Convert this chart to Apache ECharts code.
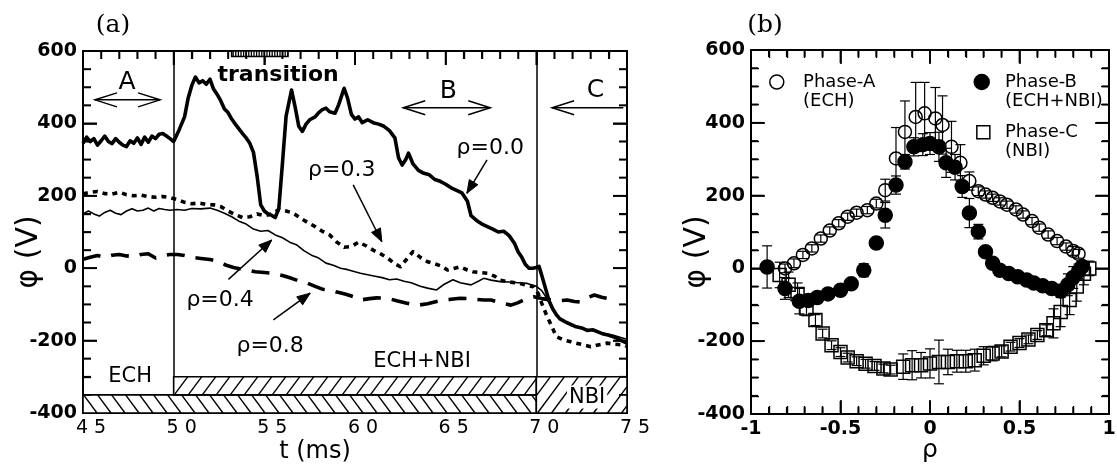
<!DOCTYPE html>
<html>
<head>
<meta charset="utf-8">
<script src="https://cdn.jsdelivr.net/npm/echarts@6/dist/echarts.min.js"></script>
<style>
  html, body { margin: 0; padding: 0; background: #fff; }
  #chart { width: 1117px; height: 466px; }
</style>
</head>
<body>
<div id="chart"></div>
<script>
// ---- (a) plasma potential time traces, t in ms, phi in V ----
const rho00 = [[45.0,345],[45.2,362],[45.4,350],[45.6,358],[45.8,340],[46.0,352],[46.2,365],[46.4,350],[46.6,344],[46.8,358],[47.0,348],[47.2,340],[47.4,336],[47.6,352],[47.8,345],[48.0,360],[48.2,342],[48.4,362],[48.6,348],[48.8,365],[49.0,358],[49.2,370],[49.4,372],[49.6,365],[49.8,358],[50.0,350],[50.3,382],[50.6,418],[50.8,470],[51.0,505],[51.2,528],[51.4,512],[51.6,518],[51.8,508],[52.0,522],[52.2,495],[52.4,480],[52.6,462],[52.8,440],[53.0,430],[53.2,412],[53.4,398],[53.6,385],[53.8,372],[54.0,360],[54.2,345],[54.4,320],[54.6,255],[54.8,175],[55.0,158],[55.2,150],[55.4,146],[55.6,140],[55.8,165],[56.0,290],[56.2,420],[56.5,492],[56.7,445],[56.9,392],[57.1,378],[57.3,398],[57.5,410],[57.8,418],[58.0,430],[58.2,438],[58.4,442],[58.6,432],[58.9,428],[59.1,452],[59.4,497],[59.6,468],[59.8,425],[60.0,412],[60.2,418],[60.4,402],[60.7,410],[61.0,402],[61.3,398],[61.6,392],[61.9,380],[62.2,360],[62.4,305],[62.6,285],[62.8,300],[62.95,318],[63.2,288],[63.5,270],[63.8,262],[64.1,258],[64.4,245],[64.7,240],[65.0,232],[65.3,222],[65.6,215],[65.9,208],[66.2,185],[66.4,145],[66.7,132],[67.0,122],[67.3,115],[67.6,108],[67.9,100],[68.2,102],[68.5,90],[68.8,68],[69.0,45],[69.2,30],[69.4,10],[69.6,0],[69.8,0],[70.0,2],[70.15,5],[70.3,-20],[70.5,-55],[70.7,-90],[70.9,-112],[71.1,-128],[71.3,-140],[71.6,-148],[71.9,-155],[72.2,-162],[72.5,-165],[72.8,-172],[73.1,-170],[73.4,-176],[73.7,-182],[74.0,-185],[74.3,-190],[74.6,-198],[75.0,-207]];

const rho03 = [[45.0,205],[45.4,210],[45.8,212],[46.2,206],[46.6,205],[47.0,210],[47.4,203],[47.8,200],[48.2,202],[48.6,198],[49.0,196],[49.4,198],[49.8,195],[50.2,190],[50.6,182],[51.0,178],[51.4,180],[51.8,176],[52.2,175],[52.6,170],[53.0,158],[53.4,148],[53.8,140],[54.2,142],[54.6,150],[55.0,145],[55.4,150],[55.8,162],[56.2,158],[56.6,152],[57.0,138],[57.4,126],[57.8,115],[58.2,102],[58.6,92],[59.0,72],[59.4,58],[59.8,60],[60.2,72],[60.6,62],[61.0,50],[61.4,40],[61.8,28],[62.2,12],[62.5,4],[62.8,22],[63.2,46],[63.6,30],[64.0,18],[64.4,12],[64.8,5],[65.1,-5],[65.5,0],[65.8,4],[66.2,-5],[66.5,-10],[66.9,-12],[67.3,-14],[67.7,-22],[68.0,-33],[68.5,-38],[69.1,-42],[69.5,-48],[69.85,-51],[70.1,-70],[70.3,-97],[70.55,-128],[70.8,-155],[71.1,-189],[71.5,-198],[71.9,-203],[72.2,-207],[72.6,-212],[73.0,-217],[73.4,-212],[73.9,-207],[74.3,-210],[74.8,-212],[75.0,-216]];

const rho04 = [[45.0,150],[45.3,158],[45.6,150],[45.9,144],[46.2,154],[46.5,160],[46.8,152],[47.1,148],[47.4,158],[47.7,164],[48.0,158],[48.3,160],[48.6,166],[48.9,158],[49.2,165],[49.5,162],[49.8,160],[50.2,162],[50.6,160],[51.0,165],[51.5,164],[52.0,166],[52.4,160],[52.8,152],[53.2,142],[53.6,130],[54.0,122],[54.4,108],[54.8,102],[55.2,104],[55.6,92],[56.0,84],[56.4,72],[56.8,64],[57.2,48],[57.6,36],[58.0,28],[58.4,14],[58.8,8],[59.2,0],[59.6,-4],[60.0,-10],[60.3,-14],[60.7,-18],[61.1,-22],[61.5,-26],[61.9,-32],[62.3,-30],[62.7,-36],[63.1,-40],[63.6,-50],[64.0,-55],[64.5,-60],[64.9,-45],[65.4,-32],[65.8,-40],[66.4,-46],[66.8,-36],[67.1,-28],[67.5,-33],[68.0,-37],[68.5,-38],[69.0,-40],[69.5,-42],[70.0,-50],[70.3,-62],[70.6,-85],[70.9,-112],[71.2,-135],[71.5,-148],[71.9,-158],[72.3,-163],[72.7,-168],[73.1,-172],[73.5,-178],[73.9,-182],[74.3,-186],[74.7,-192],[75.0,-196]];

const rho08 = [[45.0,25],[45.4,30],[45.8,35],[46.2,30],[46.6,36],[47.0,38],[47.4,34],[47.8,32],[48.2,38],[48.6,40],[49.0,28],[49.4,34],[49.8,38],[50.2,38],[50.6,35],[51.0,30],[51.5,27],[52.0,24],[52.5,18],[52.9,8],[53.3,2],[53.7,-2],[54.1,-5],[54.5,-10],[55.0,-12],[55.5,-14],[56.0,-20],[56.5,-28],[57.0,-37],[57.4,-42],[57.8,-50],[58.2,-58],[58.6,-60],[59.0,-66],[59.5,-72],[60.0,-80],[60.3,-88],[60.8,-84],[61.2,-82],[61.8,-83],[62.3,-90],[62.8,-96],[63.2,-100],[63.5,-102],[64.0,-98],[64.5,-92],[64.9,-88],[65.3,-86],[65.8,-83],[66.2,-84],[66.7,-86],[67.1,-88],[67.5,-88],[68.0,-95],[68.6,-102],[69.0,-95],[69.3,-88],[69.6,-82],[69.85,-79],[70.3,-84],[70.8,-88],[71.2,-90],[71.7,-88],[72.1,-92],[72.4,-93],[72.8,-82],[73.2,-74],[73.6,-80],[73.9,-83],[74.2,-75]];

// phase boundaries (ms)
const phaseBoundaries = [50, 70];
// heating windows: [tStart, tEnd, phiLow, phiHigh, hatch] (hatch 1 = "/", -1 = "\", 0 = "|")
const echWindow = [[45, 70, -400, -350, -1]];
const nbiWindow = [[50, 70, -350, -300, 1], [70, 75, -400, -300, 1]];
const transitionWindow = [[53.2, 56.3, 585, 600, 0]];

// ---- (b) radial profiles: [rho, phi (V), error (V)] ----
const phaseA = [[-0.81,0,12],[-0.76,14,12],[-0.71,37,10],[-0.66,55,10],[-0.61,82,10],[-0.56,104,10],[-0.51,124,10],[-0.46,142,10],[-0.41,153,10],[-0.35,160,10],[-0.30,178,12],[-0.25,215,30],[-0.19,302,85],[-0.14,375,85],[-0.08,416,95],[-0.03,426,85],[0.03,412,85],[0.07,394,80],[0.12,334,70],[0.17,290,50],[0.22,240,25],[0.27,212,12],[0.31,203,10],[0.35,194,10],[0.39,184,10],[0.43,175,10],[0.48,162,10],[0.52,148,10],[0.57,130,10],[0.61,112,10],[0.66,93,10],[0.71,75,10],[0.76,60,10],[0.80,48,12],[0.83,40,12]];

const phaseB = [[-0.91,4,58],[-0.81,-55,30],[-0.73,-90,35],[-0.68,-88,12],[-0.63,-80,10],[-0.57,-70,10],[-0.50,-60,10],[-0.44,-42,10],[-0.37,-5,18],[-0.30,70,10],[-0.25,146,35],[-0.19,229,25],[-0.14,293,20],[-0.09,334,25],[-0.04,340,30],[0.00,343,30],[0.05,334,40],[0.09,290,40],[0.14,278,35],[0.18,225,30],[0.22,152,40],[0.27,101,20],[0.31,46,12],[0.35,14,10],[0.39,-5,10],[0.44,-14,10],[0.49,-23,10],[0.54,-32,10],[0.58,-40,10],[0.63,-48,10],[0.68,-55,10],[0.73,-62,12],[0.77,-45,30],[0.80,-25,30],[0.83,-8,20],[0.85,5,15]];

const phaseC = [[-0.84,-18,35],[-0.79,-45,35],[-0.74,-70,30],[-0.69,-110,20],[-0.64,-142,15],[-0.60,-179,12],[-0.55,-211,12],[-0.50,-230,12],[-0.46,-245,12],[-0.41,-255,12],[-0.36,-262,12],[-0.31,-268,12],[-0.26,-275,12],[-0.22,-278,12],[-0.15,-270,35],[-0.10,-266,40],[-0.05,-266,35],[0.00,-261,40],[0.05,-257,60],[0.10,-257,35],[0.15,-255,30],[0.20,-255,30],[0.25,-252,30],[0.30,-240,25],[0.35,-234,20],[0.40,-228,15],[0.45,-215,12],[0.50,-205,12],[0.55,-195,12],[0.60,-183,12],[0.65,-170,15],[0.69,-151,40],[0.73,-120,40],[0.78,-87,40],[0.82,-50,40],[0.86,-15,30],[0.89,0,20]];

// axis ranges / ticks
const tRange = [45, 75], tStep = 5, tMinorStep = 1;
const phiRange = [-400, 600], phiStep = 200, phiMinorStep = 50;
const rhoRange = [-1, 1], rhoStep = 0.5, rhoMinorStep = 0.1;

const SANS = '"DejaVu Sans", sans-serif';
const SERIF = '"DejaVu Serif", serif';
const INK = '#000';

// ---- axis helpers ----
function frameAxis(opts) {
  const base = {
    type: 'value',
    gridIndex: opts.grid,
    position: opts.position,
    min: opts.range[0], max: opts.range[1], interval: opts.step,
    axisLine: { show: true, onZero: false, lineStyle: { color: INK, width: 2 } },
    axisTick: { show: true, inside: true, length: 14, lineStyle: { color: INK, width: 1.6 } },
    minorTick: { show: true, splitNumber: opts.minor, length: 8, lineStyle: { color: INK, width: 1.4 } },
    splitLine: { show: false },
    minorSplitLine: { show: false },
    axisLabel: { show: false }
  };
  if (opts.label) base.axisLabel = Object.assign({ show: true, color: INK, showMinLabel: true, showMaxLabel: true, hideOverlap: false }, opts.label);
  if (opts.name) Object.assign(base, opts.name);
  return base;
}

const spaced = v => String(v).split('').join(' ');
const boldLabel = { fontFamily: SANS, fontWeight: 'bold', fontSize: 19 };

const xAxes = [
  frameAxis({ grid: 0, position: 'bottom', range: tRange, step: tStep, minor: 5,
    label: { fontFamily: SANS, fontSize: 19, margin: 6, padding: [0, 0, 0, 16], formatter: spaced },
    name: { name: 't (ms)', nameLocation: 'middle', nameGap: 27, nameMoveOverlap: false,
      nameTextStyle: { fontFamily: SANS, fontSize: 24, color: INK, padding: [0, 80, 0, 0] } } }),
  frameAxis({ grid: 0, position: 'top', range: tRange, step: tStep, minor: 5 }),
  frameAxis({ grid: 1, position: 'bottom', range: rhoRange, step: rhoStep, minor: 5,
    label: Object.assign({ margin: 6 }, boldLabel),
    name: { name: 'ρ', nameLocation: 'middle', nameGap: 24, nameMoveOverlap: false,
      nameTextStyle: { fontFamily: SANS, fontSize: 25, color: INK } } }),
  frameAxis({ grid: 1, position: 'top', range: rhoRange, step: rhoStep, minor: 5 })
];

const yAxes = [
  frameAxis({ grid: 0, position: 'left', range: phiRange, step: phiStep, minor: 4,
    label: Object.assign({ margin: 6, padding: [8, 0, 0, 0] }, boldLabel),
    name: { name: 'φ (V)', nameLocation: 'middle', nameRotate: 90, nameGap: 39, nameMoveOverlap: false,
      nameTextStyle: { fontFamily: SANS, fontSize: 30, color: INK, padding: [0, 40, 0, 0] } } }),
  frameAxis({ grid: 0, position: 'right', range: phiRange, step: phiStep, minor: 4 }),
  frameAxis({ grid: 1, position: 'left', range: phiRange, step: phiStep, minor: 4,
    label: Object.assign({ margin: 6, padding: [8, 0, 0, 0] }, boldLabel),
    name: { name: 'φ (V)', nameLocation: 'middle', nameRotate: 90, nameGap: 39, nameMoveOverlap: false,
      nameTextStyle: { fontFamily: SANS, fontSize: 30, color: INK, padding: [0, 40, 0, 0] } } }),
  frameAxis({ grid: 1, position: 'right', range: phiRange, step: phiStep, minor: 4 })
];

// ---- custom renderers ----
// hatched rectangle, stripes clipped to the box
function renderHatch(params, api) {
  const tl = api.coord([api.value(0), api.value(3)]);
  const br = api.coord([api.value(1), api.value(2)]);
  const x0 = tl[0], y0 = tl[1], x1 = br[0], y1 = br[1];
  const h = y1 - y0;
  const dir = api.value(4);
  const lineStyle = { stroke: INK, lineWidth: 1.4 };
  const children = [{ type: 'rect', shape: { x: x0, y: y0, width: x1 - x0, height: h },
    style: { fill: '#fff', stroke: INK, lineWidth: 1.6 } }];
  if (dir === 0) {
    for (let x = x0 + 1.5; x < x1; x += 2.6) {
      children.push({ type: 'line', shape: { x1: x, y1: y0, x2: x, y2: y1 }, style: { stroke: INK, lineWidth: 1.3 } });
    }
  } else {
    const run = h / 1.35, gap = 14;
    for (let ax = x0 - run; ax <= x1; ax += gap) {
      const u0 = Math.max(0, (x0 - ax) / run);
      const u1 = Math.min(1, (x1 - ax) / run);
      if (u1 <= u0) continue;
      // dir 1: from bottom-left up to top-right; dir -1: from top-left down to bottom-right
      const ya = dir === 1 ? y1 : y0;
      const yb = dir === 1 ? y0 : y1;
      children.push({ type: 'line', shape: {
        x1: ax + u0 * run, y1: ya + u0 * (yb - ya),
        x2: ax + u1 * run, y2: ya + u1 * (yb - ya) }, style: lineStyle });
    }
  }
  return { type: 'group', children: children };
}

// vertical error bar with caps
function renderErrorBar(params, api) {
  const x = api.value(0), y = api.value(1), e = api.value(2);
  const hi = api.coord([x, y + e]);
  const lo = api.coord([x, y - e]);
  const cap = 5;
  const st = { stroke: INK, lineWidth: 1.2 };
  return { type: 'group', children: [
    { type: 'line', shape: { x1: hi[0], y1: hi[1], x2: lo[0], y2: lo[1] }, style: st },
    { type: 'line', shape: { x1: hi[0] - cap, y1: hi[1], x2: hi[0] + cap, y2: hi[1] }, style: st },
    { type: 'line', shape: { x1: lo[0] - cap, y1: lo[1], x2: lo[0] + cap, y2: lo[1] }, style: st }
  ] };
}

function trace(name, data, width, dash) {
  return {
    name: name, type: 'line', xAxisIndex: 0, yAxisIndex: 0, data: data,
    showSymbol: false, symbol: 'none', smooth: false, clip: true, z: 8,
    lineStyle: { color: INK, width: width, type: dash || 'solid', cap: 'butt', join: 'round' }
  };
}

function hatchSeries(name, data) {
  return { name: name, type: 'custom', xAxisIndex: 0, yAxisIndex: 0, data: data,
    encode: { x: [0, 1], y: [2, 3] }, renderItem: renderHatch, z: 7, silent: true };
}

function errSeries(data) {
  return { type: 'custom', xAxisIndex: 2, yAxisIndex: 2, data: data,
    encode: { x: 0, y: 1 }, renderItem: renderErrorBar, z: 7, silent: true };
}

function profile(name, data, symbol, filled, size) {
  return { name: name, type: 'scatter', xAxisIndex: 2, yAxisIndex: 2,
    data: data.map(d => [d[0], d[1]]), symbol: symbol, symbolSize: size, z: 8,
    itemStyle: { color: filled ? INK : 'rgba(0,0,0,0)', borderColor: INK, borderWidth: 1.5, opacity: 1 } };
}

const t0 = trace('ρ=0.0', rho00, 3.6);
t0.markLine = {
  silent: true, symbol: 'none', label: { show: false },
  lineStyle: { color: INK, width: 1.5, type: 'solid' },
  data: phaseBoundaries.map(t => ({ xAxis: t }))
};

const option = {
  animation: false,
  backgroundColor: '#fff',
  grid: [
    { left: 83, right: 490, top: 51, bottom: 53, containLabel: false, outerBoundsMode: 'none' },
    { left: 751, right: 8, top: 50, bottom: 52, containLabel: false, outerBoundsMode: 'none' }
  ],
  xAxis: xAxes,
  yAxis: yAxes,
  series: [
    hatchSeries('ECH', echWindow),
    hatchSeries('NBI', nbiWindow),
    hatchSeries('transition', transitionWindow),
    t0,
    trace('ρ=0.3', rho03, 3.6, [5, 5]),
    trace('ρ=0.4', rho04, 1.6),
    trace('ρ=0.8', rho08, 3.6, [18, 11]),
    errSeries(phaseC), errSeries(phaseA), errSeries(phaseB),
    profile('Phase-C', phaseC, 'rect', false, 13),
    profile('Phase-A', phaseA, 'circle', false, 13),
    profile('Phase-B', phaseB, 'circle', true, 14)
  ]
};

const chart = echarts.init(document.getElementById('chart'), null, { renderer: 'canvas' });
chart.setOption(option);

// ---- annotations (anchored in data coordinates) ----
const toA = p => chart.convertToPixel({ xAxisIndex: 0, yAxisIndex: 0 }, p).slice();
const toB = p => chart.convertToPixel({ xAxisIndex: 2, yAxisIndex: 2 }, p).slice();

function text(pt, str, font, extra) {
  const el = { type: 'text', x: pt[0], y: pt[1], z: 100, silent: true,
    style: { text: str, font: font, fill: INK, align: 'center', verticalAlign: 'middle',
      textAlign: 'center', textVerticalAlign: 'middle' } };
  if (extra) Object.assign(el.style, extra);
  return el;
}
function seg(a, b, w) {
  return { type: 'line', z: 100, silent: true, shape: { x1: a[0], y1: a[1], x2: b[0], y2: b[1] },
    style: { stroke: INK, lineWidth: w || 1.5 } };
}
function bar(x, y, w, h) {
  return { type: 'rect', z: 100, silent: true, shape: { x: x, y: y, width: w, height: h },
    style: { fill: INK, stroke: null } };
}
function headPoints(from, tip, len, half) {
  const dx = tip[0] - from[0], dy = tip[1] - from[1];
  const n = Math.hypot(dx, dy) || 1;
  const ux = dx / n, uy = dy / n;
  return [[tip[0] - len * ux + half * uy, tip[1] - len * uy - half * ux], tip,
          [tip[0] - len * ux - half * uy, tip[1] - len * uy + half * ux]];
}
function chevron(from, tip, len, half) {
  return { type: 'polyline', z: 100, silent: true, shape: { points: headPoints(from, tip, len, half) },
    style: { stroke: INK, lineWidth: 1.5, fill: null } };
}
function solidHead(from, tip, len, half) {
  return { type: 'polygon', z: 100, silent: true, shape: { points: headPoints(from, tip, len, half) },
    style: { fill: INK, stroke: INK, lineWidth: 1 } };
}

// inward frame ticks as thin filled bars, positioned through each panel's axis scales
function frameTicks(toPx, xr, xStep, xMinor, yr, yStep, yMinor, majorLen, minorLen, bottom) {
  const out = [];
  const tw = 1.8;
  const nx = Math.round((xr[1] - xr[0]) / xMinor), kx = Math.round(xStep / xMinor);
  const ny = Math.round((yr[1] - yr[0]) / yMinor), ky = Math.round(yStep / yMinor);
  for (let i = 1; i < nx; i++) {
    const v = xr[0] + i * xMinor;
    const len = i % kx === 0 ? majorLen : minorLen;
    const b = toPx([v, yr[0]]);
    const t = toPx([v, yr[1]]);
    if (bottom) out.push(bar(b[0] - tw / 2, b[1] - len, tw, len));
    out.push(bar(t[0] - tw / 2, t[1], tw, len));
  }
  for (let j = 1; j < ny; j++) {
    const v = yr[0] + j * yMinor;
    const len = j % ky === 0 ? majorLen : minorLen;
    const l = toPx([xr[0], v]);
    const r = toPx([xr[1], v]);
    out.push(bar(l[0], l[1] - tw / 2, len, tw));
    out.push(bar(r[0] - len, r[1] - tw / 2, len, tw));
  }
  return out;
}

const curveTags = [
  { text: 'ρ=0.0', at: [67.46, 332], from: [67.28, 299], to: [66.17, 207] },
  { text: 'ρ=0.3', at: [59.27, 271], from: [59.9, 230], to: [61.48, 73] },
  { text: 'ρ=0.4', at: [52.56, -88], from: [53.02, -31], to: [55.41, 78] },
  { text: 'ρ=0.8', at: [55.32, -217], from: [55.5, -143], to: [57.53, -69] }
];
const phaseTags = [
  { text: 'A', at: [47.43, 512], from: [45.66, 465], to: [49.25, 465], both: true },
  { text: 'B', at: [65.14, 487], from: [62.66, 443], to: [67.46, 443], both: true },
  { text: 'C', at: [73.26, 492], from: [74.8, 443], to: [70.87, 443], both: false }
];
const heatingTags = [
  { text: 'ECH', at: [47.6, -300] },
  { text: 'ECH+NBI', at: [63.7, -259] },
  { text: 'NBI', at: [72.8, -356], clear: true }
];
const legendRows = [
  { mark: 'open', at: [-0.856, 512], lines: ['Phase-A', '(ECH)'], textAt: [-0.709, 512] },
  { mark: 'filled', at: [0.289, 512], lines: ['Phase-B', '(ECH+NBI)'], textAt: [0.419, 512] },
  { mark: 'square', at: [0.298, 374], lines: ['Phase-C', '(NBI)'], textAt: [0.419, 374] }
];

const g = [];
g.push(text([113, 25], '(a)', '25px ' + SERIF));
g.push(text([765, 25], '(b)', '25px ' + SERIF));
g.push(text(toA([55.76, 534]), 'transition', 'bold 22px ' + SANS));

curveTags.forEach(c => {
  g.push(text(toA(c.at), c.text, '22px ' + SANS));
  const a = toA(c.from), b = toA(c.to);
  g.push(seg(a, b, 1.5));
  g.push(solidHead(a, b, 13, 5));
});

phaseTags.forEach(p => {
  g.push(text(toA(p.at), p.text, '25px ' + SANS));
  const a = toA(p.from), b = toA(p.to);
  g.push(seg(a, b, 1.5));
  g.push(chevron(a, b, 22, 7));
  if (p.both) g.push(chevron(b, a, 22, 7));
});

heatingTags.forEach(h => {
  const extra = h.clear ? { backgroundColor: '#fff', padding: [1, 2] } : null;
  g.push(text(toA(h.at), h.text, '21px ' + SANS, extra));
});

legendRows.forEach(r => {
  const p = toB(r.at);
  if (r.mark === 'square') {
    g.push({ type: 'rect', z: 100, silent: true, shape: { x: p[0] - 6.5, y: p[1] - 6.5, width: 13, height: 13 },
      style: { fill: null, stroke: INK, lineWidth: 1.5 } });
  } else {
    g.push({ type: 'circle', z: 100, silent: true, shape: { cx: p[0], cy: p[1], r: r.mark === 'filled' ? 7.5 : 7 },
      style: { fill: r.mark === 'filled' ? INK : null, stroke: INK, lineWidth: 1.5 } });
  }
  const tp = toB(r.textAt);
  r.lines.forEach((line, i) => {
    g.push(text([tp[0], tp[1] + i * 19], line, '18px ' + SANS, { align: 'left', textAlign: 'left' }));
  });
});

// frame ticks; panel (a) has its bottom edge under the heating bars
frameTicks(toA, tRange, tStep, tMinorStep, phiRange, phiStep, phiMinorStep, 14, 8, false).forEach(e => g.push(e));
frameTicks(toB, rhoRange, rhoStep, rhoMinorStep, phiRange, phiStep, phiMinorStep, 13, 7, true).forEach(e => g.push(e));

chart.setOption({ graphic: { elements: g } });
</script>
</body>
</html>
